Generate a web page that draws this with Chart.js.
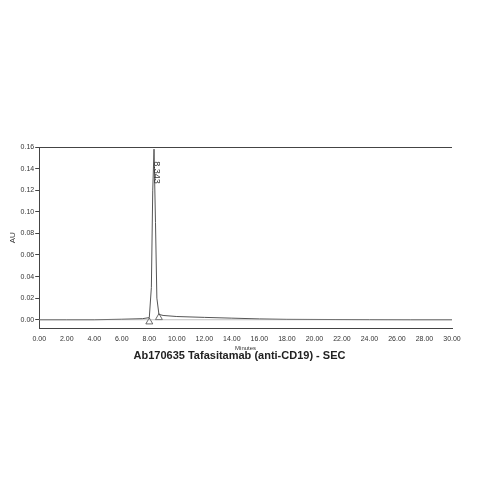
<!DOCTYPE html>
<html>
<head>
<script src="https://cdn.jsdelivr.net/npm/chart.js@4"></script>
<style>
  body { margin: 0; background: #fff; }
  #wrap { position: absolute; left: 0; top: 0; width: 479px; height: 479px; }
  #title { position: absolute; top: 349px; left: 0; width: 479px; text-align: center;
           font: bold 11px "Liberation Sans", Arial, sans-serif; color: #222; }
</style>
</head>
<body>
<div id="wrap"><canvas id="chart" width="479" height="479"></canvas></div>
<div id="title">Ab170635 Tafasitamab (anti-CD19) - SEC</div>
<script>
// trace (minutes, AU)
const times = [0, 2, 4, 6, 7.5, 8.0, 8.15, 8.25, 8.343, 8.45, 8.55, 8.7, 9.0, 10, 12, 14, 16, 18, 21.5, 24, 27, 30];
const signal = [0, 0, 0, 0.0005, 0.001, 0.002, 0.03, 0.12, 0.158, 0.09, 0.02, 0.005, 0.004, 0.003, 0.0022, 0.0015, 0.0008, 0.0004, 0.0002, 0.0001, 0, 0];
const peakLabel = "8.343";
const markTimes = [8.0, 8.7];
const markValues = [-0.002, 0.002];
const xTicks = [0, 2, 4, 6, 8, 10, 12, 14, 16, 18, 20, 22, 24, 26, 28, 30];
const yTicks = [0, 0.02, 0.04, 0.06, 0.08, 0.1, 0.12, 0.14, 0.16];

const labelPlugin = {
    id: "peakLabel",
    afterDatasetsDraw(chart) {
        const ctx = chart.ctx;
        const x = chart.scales.x.getPixelForValue(8.343);
        const y = chart.scales.y.getPixelForValue(0.158);
        ctx.save();
        ctx.translate(x + 2, y + 12);
        ctx.rotate(Math.PI / 2);
        ctx.font = "9px 'Liberation Sans', Arial";
        ctx.fillStyle = "#333";
        ctx.textBaseline = "middle";
        ctx.fillText(peakLabel, 0, 0);
        ctx.restore();
    }
};

new Chart(document.getElementById("chart"), {
    type: "line",
    data: {
        datasets: [{
            data: times.map((t, i) => ({ x: t, y: signal[i] })),
            borderColor: "#555",
            borderWidth: 1,
            pointRadius: 0,
            tension: 0
        }, {
            data: markTimes.map((t, i) => ({ x: t, y: markValues[i] })),
            showLine: false,
            pointStyle: "triangle",
            pointRadius: 4,
            borderWidth: 0.8,
            borderColor: "#444",
            backgroundColor: "rgba(0,0,0,0)"
        }]
    },
    options: {
        responsive: false,
        animation: false,
        layout: { padding: { left: 6, right: 27, top: 147, bottom: 127 } },
        plugins: { legend: { display: false }, tooltip: { enabled: false } },
        scales: {
            x: {
                type: "linear", min: 0, max: 30,
                afterBuildTicks: axis => { axis.ticks = xTicks.map(v => ({ value: v })); },
                ticks: { font: { size: 7, family: "Liberation Sans" }, color: "#333", maxRotation: 0, padding: 2,
                         callback: v => v.toFixed(2) },
                grid: { display: false, drawOnChartArea: false, tickLength: 4 },
                border: { color: "#444" },
                title: { display: true, text: "Minutes", font: { size: 6, family: "Liberation Sans" }, color: "#333", padding: 0 }
            },
            y: {
                min: -0.008, max: 0.16,
                afterBuildTicks: axis => { axis.ticks = yTicks.map(v => ({ value: v })); },
                ticks: { font: { size: 7, family: "Liberation Sans" }, color: "#333", padding: 1, callback: v => v.toFixed(2) },
                grid: { display: true, drawOnChartArea: false, tickLength: 4, color: "#444" },
                border: { color: "#444" },
                title: { display: true, text: "AU", font: { size: 8, family: "Liberation Sans" }, color: "#333", padding: 2 }
            }
        }
    },
    plugins: [labelPlugin, {
        id: "frameLines",
        afterDraw(chart) {
            const a = chart.chartArea, ctx = chart.ctx;
            ctx.save();
            ctx.strokeStyle = "#444"; ctx.lineWidth = 1;
            ctx.beginPath(); ctx.moveTo(a.left, a.top + 0.5); ctx.lineTo(a.right, a.top + 0.5); ctx.stroke();
            ctx.strokeStyle = "#999"; ctx.lineWidth = 0.6;
            const y0 = chart.scales.y.getPixelForValue(0);
            ctx.beginPath(); ctx.moveTo(a.left, y0); ctx.lineTo(a.right, y0); ctx.stroke();
            ctx.restore();
        }
    }]
});
</script>
</body>
</html>
